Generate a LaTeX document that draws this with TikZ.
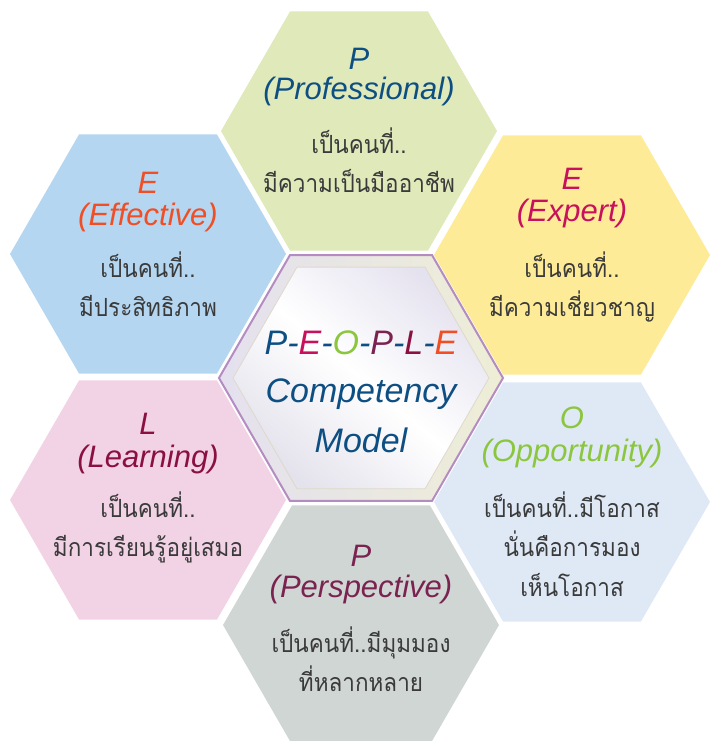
\documentclass[tikz,border=0pt]{standalone}
\usepackage{fontspec}
\usepackage{graphicx}
\setmainfont{Liberation Sans}
\newfontfamily\thaifont[Script=Thai]{Loma}
\usetikzlibrary{shapes.geometric}
\definecolor{fillP}{HTML}{DFE9BA}
\definecolor{fillEf}{HTML}{B5D6F0}
\definecolor{fillEx}{HTML}{FDEB98}
\definecolor{fillL}{HTML}{F2D2E5}
\definecolor{fillO}{HTML}{DFE9F6}
\definecolor{fillPe}{HTML}{D0D6D4}
\definecolor{txtP}{HTML}{0D4F82}
\definecolor{txtEf}{HTML}{F04E25}
\definecolor{txtEx}{HTML}{C8115C}
\definecolor{txtL}{HTML}{8A1040}
\definecolor{txtO}{HTML}{8CC63F}
\definecolor{txtPe}{HTML}{7A2350}
\definecolor{thaigray}{HTML}{3A3A3A}
\definecolor{rimpurple}{HTML}{B48CC1}
\definecolor{ringL}{HTML}{E4E0EF}
\definecolor{ringR}{HTML}{EEEED6}
\definecolor{innerA}{HTML}{E5E2EF}
\definecolor{innerB}{HTML}{E4E2EC}
\definecolor{innerrim}{HTML}{DED9CB}
\newcommand{\thsq}[1]{\scalebox{0.9}[1]{#1}}
\begin{document}
\begin{tikzpicture}[x=1pt,y=1pt,
  hexa/.style={regular polygon, regular polygon sides=6, minimum size=276pt, inner sep=0pt, outer sep=0pt, draw=none},
  ttl/.style={anchor=base, font=\fontsize{31}{31}\selectfont\itshape, inner sep=0pt},
  thai/.style={anchor=base, font=\thaifont\fontsize{25}{25}\selectfont, text=thaigray, inner sep=0pt},
  ctr/.style={anchor=base, font=\fontsize{34}{34}\selectfont\itshape, text=txtP, inner sep=0pt}]
\useasboundingbox (0,0) rectangle (711,741);
% outer hexagons
\node[hexa, fill=fillP]  (hP)  at (359,610) {};
\node[hexa, fill=fillEf] (hEf) at (148,487) {};
\node[hexa, fill=fillEx] (hEx) at (572,486) {};
\node[hexa, fill=fillL]  (hL)  at (148,241) {};
\node[hexa, fill=fillO]  (hO)  at (572,239) {};
\node[hexa, fill=fillPe] (hPe) at (361,116) {};
% centre hexagon
\node[regular polygon, regular polygon sides=6, minimum size=284pt, inner sep=0pt, outer sep=0pt,
      draw=rimpurple, line width=2pt, left color=ringL, right color=ringR] (hC) at (361,363) {};
\node[regular polygon, regular polygon sides=6, minimum size=256pt, inner sep=0pt, outer sep=0pt,
      draw=innerrim, line width=0.8pt, shading=axis, top color=innerA, bottom color=innerB,
      middle color=white, shading angle=-40] (hCi) at (361,363) {};
% P Professional
\node[ttl, text=txtP] (tP1) at ([yshift=61pt]hP.center) {P};
\node[ttl, text=txtP] (tP2) at ([yshift=31pt]hP.center) {(Professional)};
\node[thai] (tP3) at ([yshift=-23pt]hP.center) {\thsq{เป็นคนที่..}};
\node[thai] (tP4) at ([yshift=-62pt]hP.center) {\thsq{มีความเป็นมืออาชีพ}};
% E Effective
\node[ttl, text=txtEf] (tEf1) at ([yshift=60pt]hEf.center) {E};
\node[ttl, text=txtEf] (tEf2) at ([yshift=28pt]hEf.center) {(Effective)};
\node[thai] (tEf3) at ([yshift=-24pt]hEf.center) {\thsq{เป็นคนที่..}};
\node[thai] (tEf4) at ([yshift=-63pt]hEf.center) {\thsq{มีประสิทธิภาพ}};
% E Expert
\node[ttl, text=txtEx] (tEx1) at ([yshift=65pt]hEx.center) {E};
\node[ttl, text=txtEx] (tEx2) at ([yshift=33pt]hEx.center) {(Expert)};
\node[thai] (tEx3) at ([yshift=-23pt]hEx.center) {\thsq{เป็นคนที่..}};
\node[thai] (tEx4) at ([yshift=-62pt]hEx.center) {\thsq{มีความเชี่ยวชาญ}};
% L Learning
\node[ttl, text=txtL] (tL1) at ([yshift=65pt]hL.center) {L};
\node[ttl, text=txtL] (tL2) at ([yshift=32pt]hL.center) {(Learning)};
\node[thai] (tL3) at ([yshift=-18pt]hL.center) {\thsq{เป็นคนที่..}};
\node[thai] (tL4) at ([yshift=-57pt]hL.center) {\thsq{มีการเรียนรู้อยู่เสมอ}};
% O Opportunity
\node[ttl, text=txtO] (tO1) at ([yshift=73pt]hO.center) {O};
\node[ttl, text=txtO] (tO2) at ([yshift=40pt]hO.center) {(Opportunity)};
\node[thai] (tO3) at ([yshift=-16pt]hO.center) {\thsq{เป็นคนที่..มีโอกาส}};
\node[thai] (tO4) at ([yshift=-55pt]hO.center) {\thsq{นั่นคือการมอง}};
\node[thai] (tO5) at ([yshift=-95pt]hO.center) {\thsq{เห็นโอกาส}};
% P Perspective
\node[ttl, text=txtPe] (tPe1) at ([yshift=58pt]hPe.center) {P};
\node[ttl, text=txtPe] (tPe2) at ([yshift=27pt]hPe.center) {(Perspective)};
\node[thai] (tPe3) at ([yshift=-28pt]hPe.center) {\thsq{เป็นคนที่..มีมุมมอง}};
\node[thai] (tPe4) at ([yshift=-67pt]hPe.center) {\thsq{ที่หลากหลาย}};
% centre text
\node[ctr] (tC1) at ([yshift=23pt]hC.center) {\textcolor{txtP}{P}-\textcolor{txtEx}{E}-\textcolor{txtO}{O}-\textcolor{txtPe}{P}-\textcolor{txtL}{L}-\textcolor{txtEf}{E}};
\node[ctr] (tC2) at ([yshift=-25pt]hC.center) {Competency};
\node[ctr] (tC3) at ([yshift=-75pt]hC.center) {Model};
\end{tikzpicture}
\end{document}
